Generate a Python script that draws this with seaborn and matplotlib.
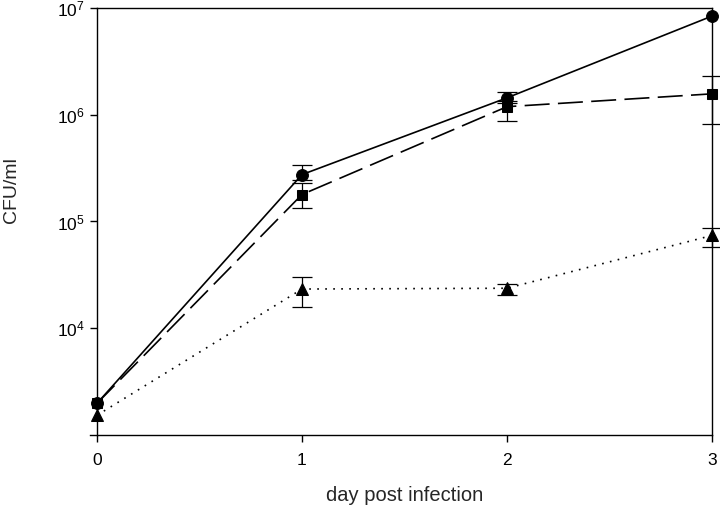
import numpy as np
import pandas as pd
import matplotlib
matplotlib.use("Agg")
import matplotlib.pyplot as plt
import seaborn as sns

days = [0, 1, 2, 3]

# NaN = no error bar shown in the reference
circle_cfu = [1.98e3, 2.75e5, 1.44e6, 8.4e6]
circle_lo = [np.nan, 2.46e5, 1.28e6, np.nan]
circle_hi = [np.nan, 3.35e5, 1.64e6, np.nan]

square_cfu = [1.98e3, 1.79e5, 1.19e6, 1.57e6]
square_lo = [np.nan, 1.35e5, 8.8e5, 8.2e5]
square_hi = [np.nan, 2.27e5, 1.35e6, 2.3e6]

triangle_cfu = [1.53e3, 2.33e4, 2.37e4, 7.4e4]
triangle_lo = [np.nan, 1.57e4, 2.05e4, 5.8e4]
triangle_hi = [np.nan, 3.0e4, 2.6e4, 8.6e4]

y_ticks = [1e4, 1e5, 1e6, 1e7]
x_ticks = [0, 1, 2, 3]
x_label = "day post infection"
y_label = "CFU/ml"

sns.set_theme(style="ticks")
plt.rcParams["font.family"] = ["Liberation Sans", "DejaVu Sans"]
plt.rcParams["mathtext.fontset"] = "custom"
plt.rcParams["mathtext.rm"] = "Liberation Sans"
plt.rcParams["mathtext.it"] = "Liberation Sans:italic"

series = {
    "circle": (circle_cfu, circle_lo, circle_hi),
    "square": (square_cfu, square_lo, square_hi),
    "triangle": (triangle_cfu, triangle_lo, triangle_hi),
}

rows = []
for name, (vals, lo, hi) in series.items():
    for d, v in zip(days, vals):
        rows.append({"day": d, "cfu": v, "strain": name})
df = pd.DataFrame(rows)

fig = plt.figure(figsize=(7.2, 5.11), dpi=100)
ax = fig.add_axes([97 / 720, 1 - 435 / 511, (712 - 97) / 720, (435 - 8) / 511])

styles = {
    "circle": dict(marker="o", ms=8.5, dashes=None),
    "square": dict(marker="s", ms=7, dashes=(15, 5)),
    "triangle": dict(marker="^", ms=8.5, dashes=(1, 3.8)),
}

for name, (vals, lo, hi) in series.items():
    sub = df[df["strain"] == name]
    st = styles[name]
    sns.lineplot(data=sub, x="day", y="cfu", ax=ax, color="black", lw=1.2,
                 marker=st["marker"], markersize=st["ms"], markeredgecolor="black",
                 markerfacecolor="black", legend=False, zorder=3)
    l = ax.lines[-1]
    l.set_clip_on(False)
    if st["dashes"] is not None:
        l.set_dashes(st["dashes"])
    v = np.array(vals)
    lo_a = np.array(lo)
    hi_a = np.array(hi)
    m = ~np.isnan(lo_a)
    yerr = np.vstack([v[m] - lo_a[m], hi_a[m] - v[m]])
    eb = ax.errorbar(np.array(days)[m], v[m], yerr=yerr, fmt="none", ecolor="black",
                     elinewidth=0.9, capsize=7, capthick=0.9, zorder=2)
    for art in eb.get_children():
        art.set_clip_on(False)

ax.set_yscale("log")
ax.set_ylim(1e3, 1e7)
ax.set_xlim(0, 3)
ax.set_yticks(y_ticks)
ax.yaxis.set_minor_locator(matplotlib.ticker.NullLocator())
ax.set_xticks(x_ticks)
ax.set_xticklabels([str(t) for t in x_ticks])

for s in ax.spines.values():
    s.set_visible(True)
    s.set_color("black")
    s.set_linewidth(1.0)
ax.spines["bottom"].set_bounds(-0.035, 3)

ax.tick_params(axis="both", which="major", direction="out", length=5,
               width=1.0, colors="black", labelsize=12.5)
ax.tick_params(axis="x", pad=8)
ax.tick_params(axis="y", pad=4)

ax.set_xlabel(x_label, fontsize=14.5, labelpad=13)
ax.set_ylabel(y_label, fontsize=14)
ax.yaxis.set_label_coords(-0.125, 0.574)

fig.savefig("out.png", dpi=100)
